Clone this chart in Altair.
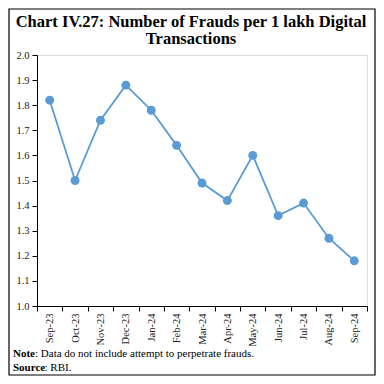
import altair as alt
import pandas as pd

months = ["Sep-23", "Oct-23", "Nov-23", "Dec-23", "Jan-24", "Feb-24", "Mar-24",
          "Apr-24", "May-24", "Jun-24", "Jul-24", "Aug-24", "Sep-24"]
values = [1.82, 1.50, 1.74, 1.88, 1.78, 1.64, 1.49, 1.42, 1.60, 1.36, 1.41, 1.27, 1.18]
y_ticks = [1.0, 1.1, 1.2, 1.3, 1.4, 1.5, 1.6, 1.7, 1.8, 1.9, 2.0]

title_line1 = "Chart IV.27: Number of Frauds per 1 lakh Digital"
title_line2 = "Transactions"
note_label = "Note"
note_text = ": Data do not include attempt to perpetrate frauds."
source_label = "Source"
source_text = ": RBI."

df = pd.DataFrame({"month": months, "value": values})

W, H = 330, 251
PL, PT, PR, PB = 29, 47, 9, 70
SERIF = "Liberation Serif"
COLOR = "#5B9BD5"

x = alt.X("month:N", sort=months, title=None,
          scale=alt.Scale(paddingInner=0, paddingOuter=0),
          axis=alt.Axis(labelAngle=270, labelAlign="right", labelBaseline="middle",
                        tickBand="extent", tickSize=5, labelPadding=2,
                        labelFont=SERIF, labelFontSize=10.5, labelColor="#222222",
                        domainColor="#000000", tickColor="#000000"))
y = alt.Y("value:Q", title=None,
          scale=alt.Scale(domain=[1.0, 2.0], nice=False, zero=False),
          axis=alt.Axis(values=y_ticks, format=".1f", grid=False, tickSize=5,
                        labelPadding=3, labelFont=SERIF, labelFontSize=10.5,
                        labelColor="#222222", domainColor="#000000", tickColor="#000000"))

base = alt.Chart(df)
line = base.mark_line(color=COLOR, strokeWidth=1.8).encode(x=x, y=y)
pts = base.mark_point(filled=True, color=COLOR, size=80, opacity=1).encode(x=x, y=y)

one = pd.DataFrame({"t": [0]})


def txt(s, xv, yv, size, bold=False, align="left"):
    return alt.Chart(one).mark_text(
        text=s, font=SERIF, fontSize=size, fontWeight="bold" if bold else "normal",
        align=align, baseline="alphabetic", color="#000000").encode(
        x=alt.value(xv), y=alt.value(yv))


t1 = txt(title_line1, 154, -28.5, 16.5, bold=True, align="center")
t2 = txt(title_line2, 154, -11, 16.5, bold=True, align="center")
note_b = txt(note_label, -24, 302, 11, bold=True)
note_r = txt(note_text, -2, 302, 11)
src_b = txt(source_label, -24, 316, 11, bold=True)
src_r = txt(source_text, 7.5, 316, 11)
border = alt.Chart(one).mark_rect(fill=None, stroke="#000000", strokeWidth=1.2).encode(
    x=alt.value(-PL + 1), x2=alt.value(W + PR - 1), y=alt.value(-PT + 1), y2=alt.value(H + PB - 1))

chart = alt.layer(line, pts, t1, t2, note_b, note_r, src_b, src_r, border).properties(
    width=W, height=H,
    autosize=alt.AutoSizeParams(type="none"),
    padding={"left": PL, "top": PT, "right": PR, "bottom": PB},
).configure_view(stroke=None).configure(background="white")

chart.save("out.html", embed_options={"renderer": "svg", "actions": False})
